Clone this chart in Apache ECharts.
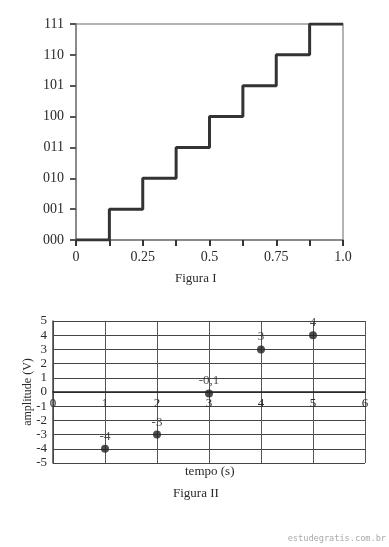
<!DOCTYPE html>
<html><head><meta charset="utf-8">
<script src="https://cdn.jsdelivr.net/npm/echarts@6/dist/echarts.min.js"></script>
<style>html,body{margin:0;padding:0;background:#fff}#c{width:389px;height:547px}</style>
</head><body><div id="c"></div>
<script>
// Figura I : quantizer staircase
const stepX = [0, 0.125, 0.25, 0.375, 0.5, 0.625, 0.75, 0.875, 1.0];
const stepY = [0, 1, 2, 3, 4, 5, 6, 7, 7];
const codeLabels = ['000', '001', '010', '011', '100', '101', '110', '111'];
const xTickValues = [0, 0.25, 0.5, 0.75, 1.0];
const xTickText = ['0', '0.25', '0.5', '0.75', '1.0'];
// Figura II : samples
const tempo = [1, 2, 3, 4, 5];
const amplitude = [-4, -3, -0.1, 3, 4];
const pointLabels = ['-4', '-3', '-0,1', '3', '4'];

const SERIF = '"Liberation Serif", "DejaVu Serif", serif';
const chart = echarts.init(document.getElementById('c'), null, {renderer: 'canvas'});

function xLabel(v) {
  for (let i = 0; i < xTickValues.length; i++) {
    if (Math.abs(xTickValues[i] - v) < 1e-6) return xTickText[i];
  }
  return '';
}

// second grid geometry and amplitude range
const g2 = {left: 53, right: 24, top: 321, height: 142};
const ampMin = -5, ampMax = 5;
// x axis sits on the zero line: move it up from the grid bottom
const zeroOffset = -g2.height * (0 - ampMin) / (ampMax - ampMin);

chart.setOption({
  animation: false,
  backgroundColor: '#fff',
  grid: [
    {left: 76, right: 46, top: 24, height: 216, show: true, borderColor: '#9a9a9a', borderWidth: 1.5, backgroundColor: 'transparent'},
    g2
  ],
  xAxis: [
    {
      gridIndex: 0, type: 'value', min: 0, max: 1, interval: 0.125,
      axisLine: {lineStyle: {color: '#8a8a8a', width: 2}},
      axisTick: {show: true, length: 6, lineStyle: {color: '#333', width: 2}},
      axisLabel: {formatter: xLabel, margin: 10, color: '#2a2a2a', fontFamily: SERIF, fontSize: 14},
      splitLine: {show: false}
    },
    {
      gridIndex: 1, type: 'value', min: 0, max: 6, interval: 1, position: 'bottom', offset: zeroOffset,
      axisLine: {onZero: false, lineStyle: {color: '#222', width: 1.5}},
      axisTick: {show: false},
      axisLabel: {margin: 5, color: '#2a2a2a', fontFamily: SERIF, fontSize: 13},
      splitLine: {show: true, lineStyle: {color: '#555', width: 1}}
    }
  ],
  yAxis: [
    {
      gridIndex: 0, type: 'value', min: 0, max: 7, interval: 1,
      axisLine: {show: true, lineStyle: {color: '#8a8a8a', width: 2}},
      axisTick: {show: true, length: 6, lineStyle: {color: '#555', width: 2}},
      axisLabel: {formatter: v => codeLabels[Math.round(v)] || '', margin: 12, color: '#2a2a2a', fontFamily: SERIF, fontSize: 14},
      splitLine: {show: false}
    },
    {
      gridIndex: 1, type: 'value', min: ampMin, max: ampMax, interval: 1,
      axisLine: {show: true, lineStyle: {color: '#444', width: 1.5}},
      axisTick: {show: false},
      axisLabel: {margin: 6, color: '#2a2a2a', fontFamily: SERIF, fontSize: 13},
      splitLine: {show: true, lineStyle: {color: '#444', width: 1}},
      name: 'amplitude (V)', nameLocation: 'middle', nameGap: 19, nameMoveOverlap: false,
      nameTextStyle: {color: '#2a2a2a', fontFamily: SERIF, fontSize: 12}
    }
  ],
  series: [
    {
      type: 'line', xAxisIndex: 0, yAxisIndex: 0, step: 'end', symbol: 'none',
      lineStyle: {color: '#333', width: 3},
      data: stepX.map((x, i) => [x, stepY[i]])
    },
    {
      type: 'scatter', xAxisIndex: 1, yAxisIndex: 1, symbolSize: 8,
      itemStyle: {color: '#222'},
      label: {show: true, position: 'top', distance: 2, formatter: p => pointLabels[p.dataIndex],
        color: '#222', fontFamily: SERIF, fontSize: 13},
      data: tempo.map((t, i) => [t, amplitude[i]])
    }
  ],
  graphic: [
    {type: 'text', left: 175, top: 272, style: {text: 'Figura I', fill: '#2a2a2a', font: '13px ' + SERIF}},
    {type: 'text', left: 185, top: 465, style: {text: 'tempo (s)', fill: '#2a2a2a', font: '13px ' + SERIF}},
    {type: 'text', left: 173, top: 487, style: {text: 'Figura II', fill: '#2a2a2a', font: '13px ' + SERIF}},
    {type: 'text', right: 3, top: 534, style: {text: 'estudegratis.com.br', fill: '#aaa', font: '8.6px "DejaVu Sans Mono", monospace'}}
  ]
});
</script></body></html>
